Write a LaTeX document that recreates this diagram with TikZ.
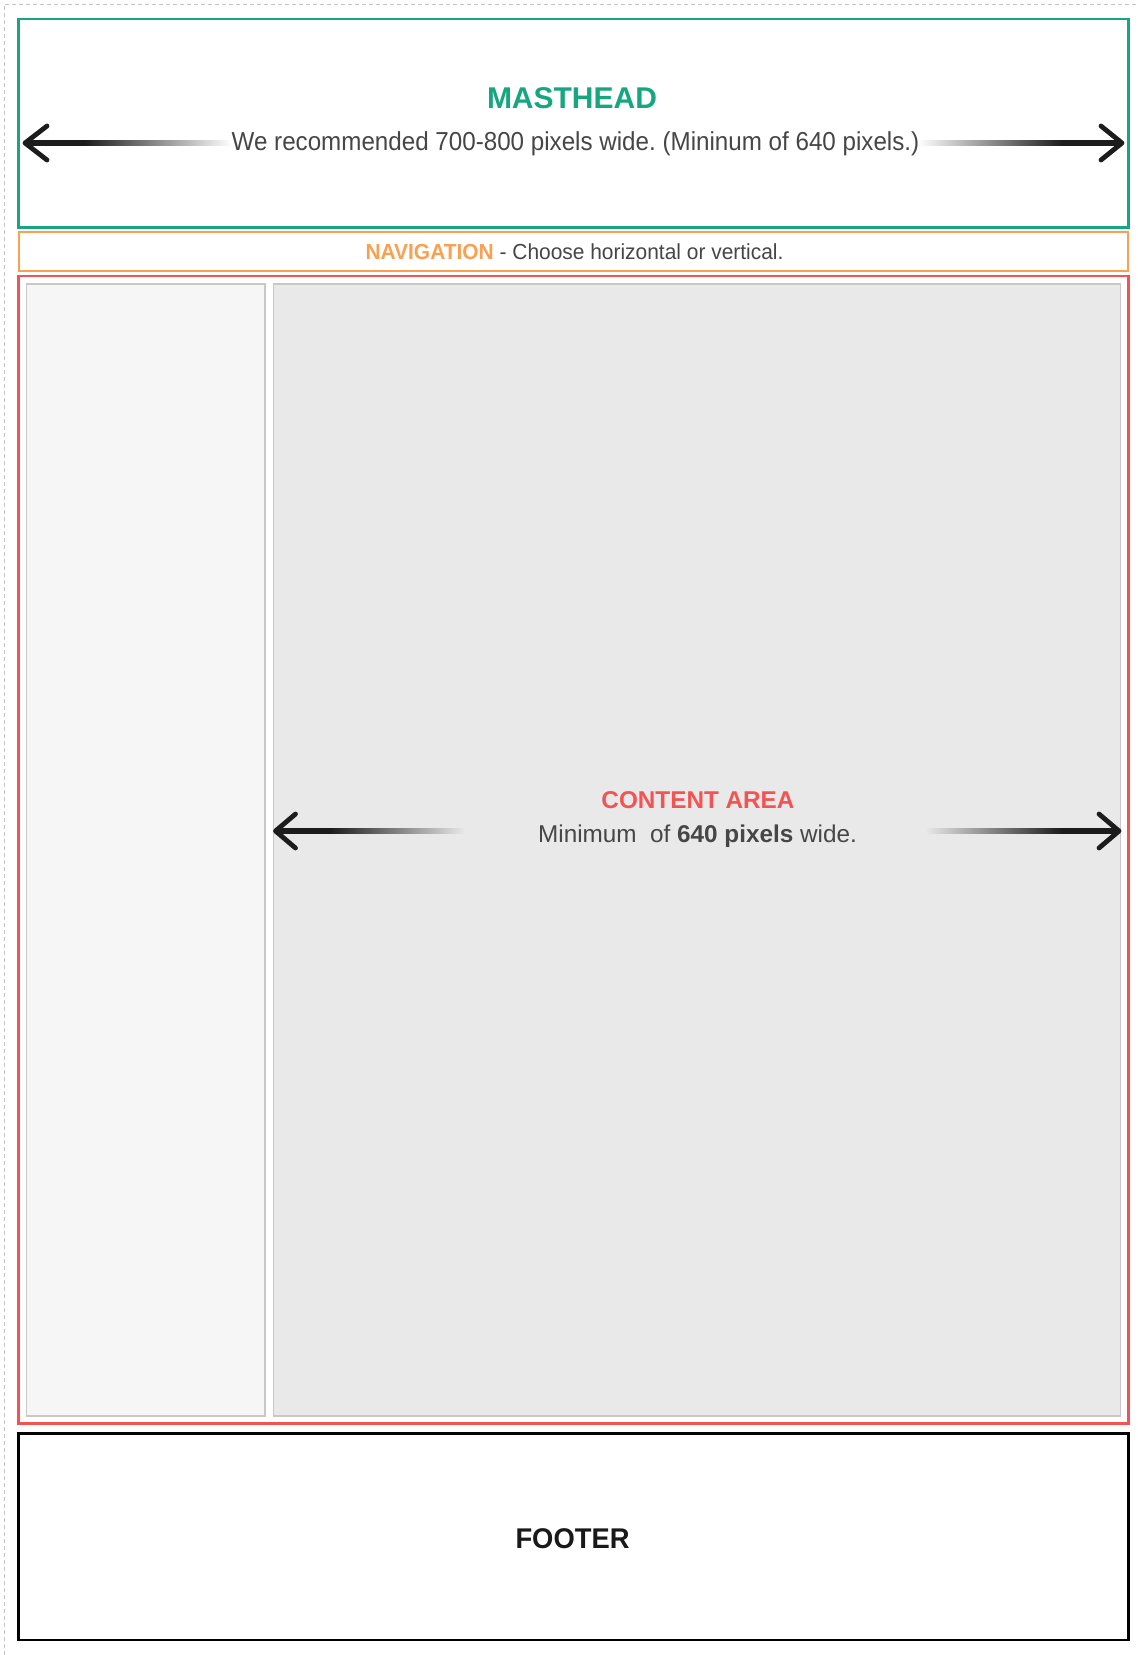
\documentclass[tikz,border=0pt]{standalone}
\usepackage{fontspec}
\setmainfont{Liberation Sans}
\newfontfamily\condensed[FakeStretch=0.93]{Liberation Sans}
\newfontfamily\slightcond[FakeStretch=0.96]{Liberation Sans}
\frenchspacing
\definecolor{mastgreen}{RGB}{22,166,128}
\definecolor{navorange}{RGB}{250,160,80}
\definecolor{contred}{RGB}{245,82,82}
\definecolor{sidefill}{HTML}{F6F6F6}
\definecolor{contfill}{HTML}{E9E9E9}
\definecolor{panelline}{HTML}{C8C8C8}
\definecolor{textgray}{HTML}{464646}
\definecolor{arrowdark}{HTML}{1C1C1C}
\definecolor{dashgray}{HTML}{C4C4C4}
\tikzset{
  region/.style={draw, rectangle, anchor=north west, inner sep=0pt, outer sep=0pt},
  panel/.style={region, draw=panelline, line width=1.3pt},
  headtip/.style={draw=arrowdark, line width=4.8pt, line cap=round, line join=round},
  heading/.style={font=\fontsize{30}{35}\selectfont\bfseries, anchor=base, inner sep=0pt},
  body/.style={anchor=base, inner sep=0pt, text=textgray},
}
\begin{document}
\begin{tikzpicture}[x=1pt,y=-1pt]
\useasboundingbox (0,0) rectangle (1138,1655);
\fill[white] (0,0) rectangle (1138,1655);
% dashed page outline
\draw[dashgray, line width=1pt, dash pattern=on 4pt off 3pt] (4,1655) -- (4,4) -- (1138,4);

% regions
\node[region, draw=mastgreen, line width=2.6pt, minimum width=1109.5pt, minimum height=208.7pt] (mast) at (18.7,19) {};
\node[region, draw=navorange, line width=2.2pt, minimum width=1109.5pt, minimum height=38.7pt] (nav) at (18.7,232.3) {};
\node[region, draw=contred, line width=2.6pt, minimum width=1109.5pt, minimum height=1147.7pt] (cont) at (18.7,276) {};
\node[panel, fill=sidefill, minimum width=238.3pt, minimum height=1132pt] (side) at (26.7,284) {};
\node[panel, fill=contfill, minimum width=847.4pt, minimum height=1132pt] (main) at (273.3,284) {};
\node[region, draw=black, line width=2.8pt, minimum width=1109.5pt, minimum height=206.7pt] (foot) at (18.7,1433.3) {};

% masthead texts
\node[heading, text=mastgreen] (mastT) at (572,108) {MASTHEAD};
\node[body, font=\condensed\fontsize{26}{30}\selectfont] (mastS) at (575.5,150)
  {We recommended 700-800 pixels wide. (Mininum of 640 pixels.)};

% masthead arrows
\coordinate (mL) at (25,143);
\coordinate (mR) at (1122,143);
\fill[arrowdark] (28,140.4) rectangle (85,145.6);
\shade[left color=arrowdark, middle color=arrowdark!45!white, right color=white] (85,140.4) rectangle (232,145.6);
\draw[headtip] (mL) ++(22,-17) -- (mL) -- ++(22,17);
\fill[arrowdark] (1062,140.4) rectangle (1119,145.6);
\shade[left color=white, middle color=arrowdark!45!white, right color=arrowdark] (918,140.4) rectangle (1062,145.6);
\draw[headtip] (mR) ++(-21,-17) -- (mR) -- ++(-21,17);

% navigation text
\node[body, font=\slightcond\fontsize{21.8}{25}\selectfont] (navT) at (574.5,259.3)
  {\textcolor{navorange}{\bfseries NAVIGATION} - Choose horizontal or vertical.};

% content texts
\node[heading, font=\fontsize{24.3}{28}\selectfont\bfseries, text=contred] (contT) at (698,808) {CONTENT AREA};
\node[body, font=\fontsize{24.3}{28}\selectfont] (contS) at (697.5,842)
  {Minimum~~of \textbf{640 pixels} wide.};

% content arrows
\coordinate (cL) at (275.5,831);
\coordinate (cR) at (1119,831);
\fill[arrowdark] (278,828.4) rectangle (330,833.6);
\shade[left color=arrowdark, middle color=arrowdark!45!contfill, right color=contfill] (330,828.4) rectangle (465,833.6);
\draw[headtip] (cL) ++(20,-17) -- (cL) -- ++(20,17);
\fill[arrowdark] (1062,828.4) rectangle (1116,833.6);
\shade[left color=contfill, middle color=arrowdark!45!contfill, right color=arrowdark] (925,828.4) rectangle (1062,833.6);
\draw[headtip] (cR) ++(-20,-17) -- (cR) -- ++(-20,17);

% footer
\node[heading, font=\slightcond\fontsize{28.5}{34}\selectfont\bfseries, text=black!90] (footT) at (572.5,1548) {FOOTER};
\end{tikzpicture}
\end{document}
